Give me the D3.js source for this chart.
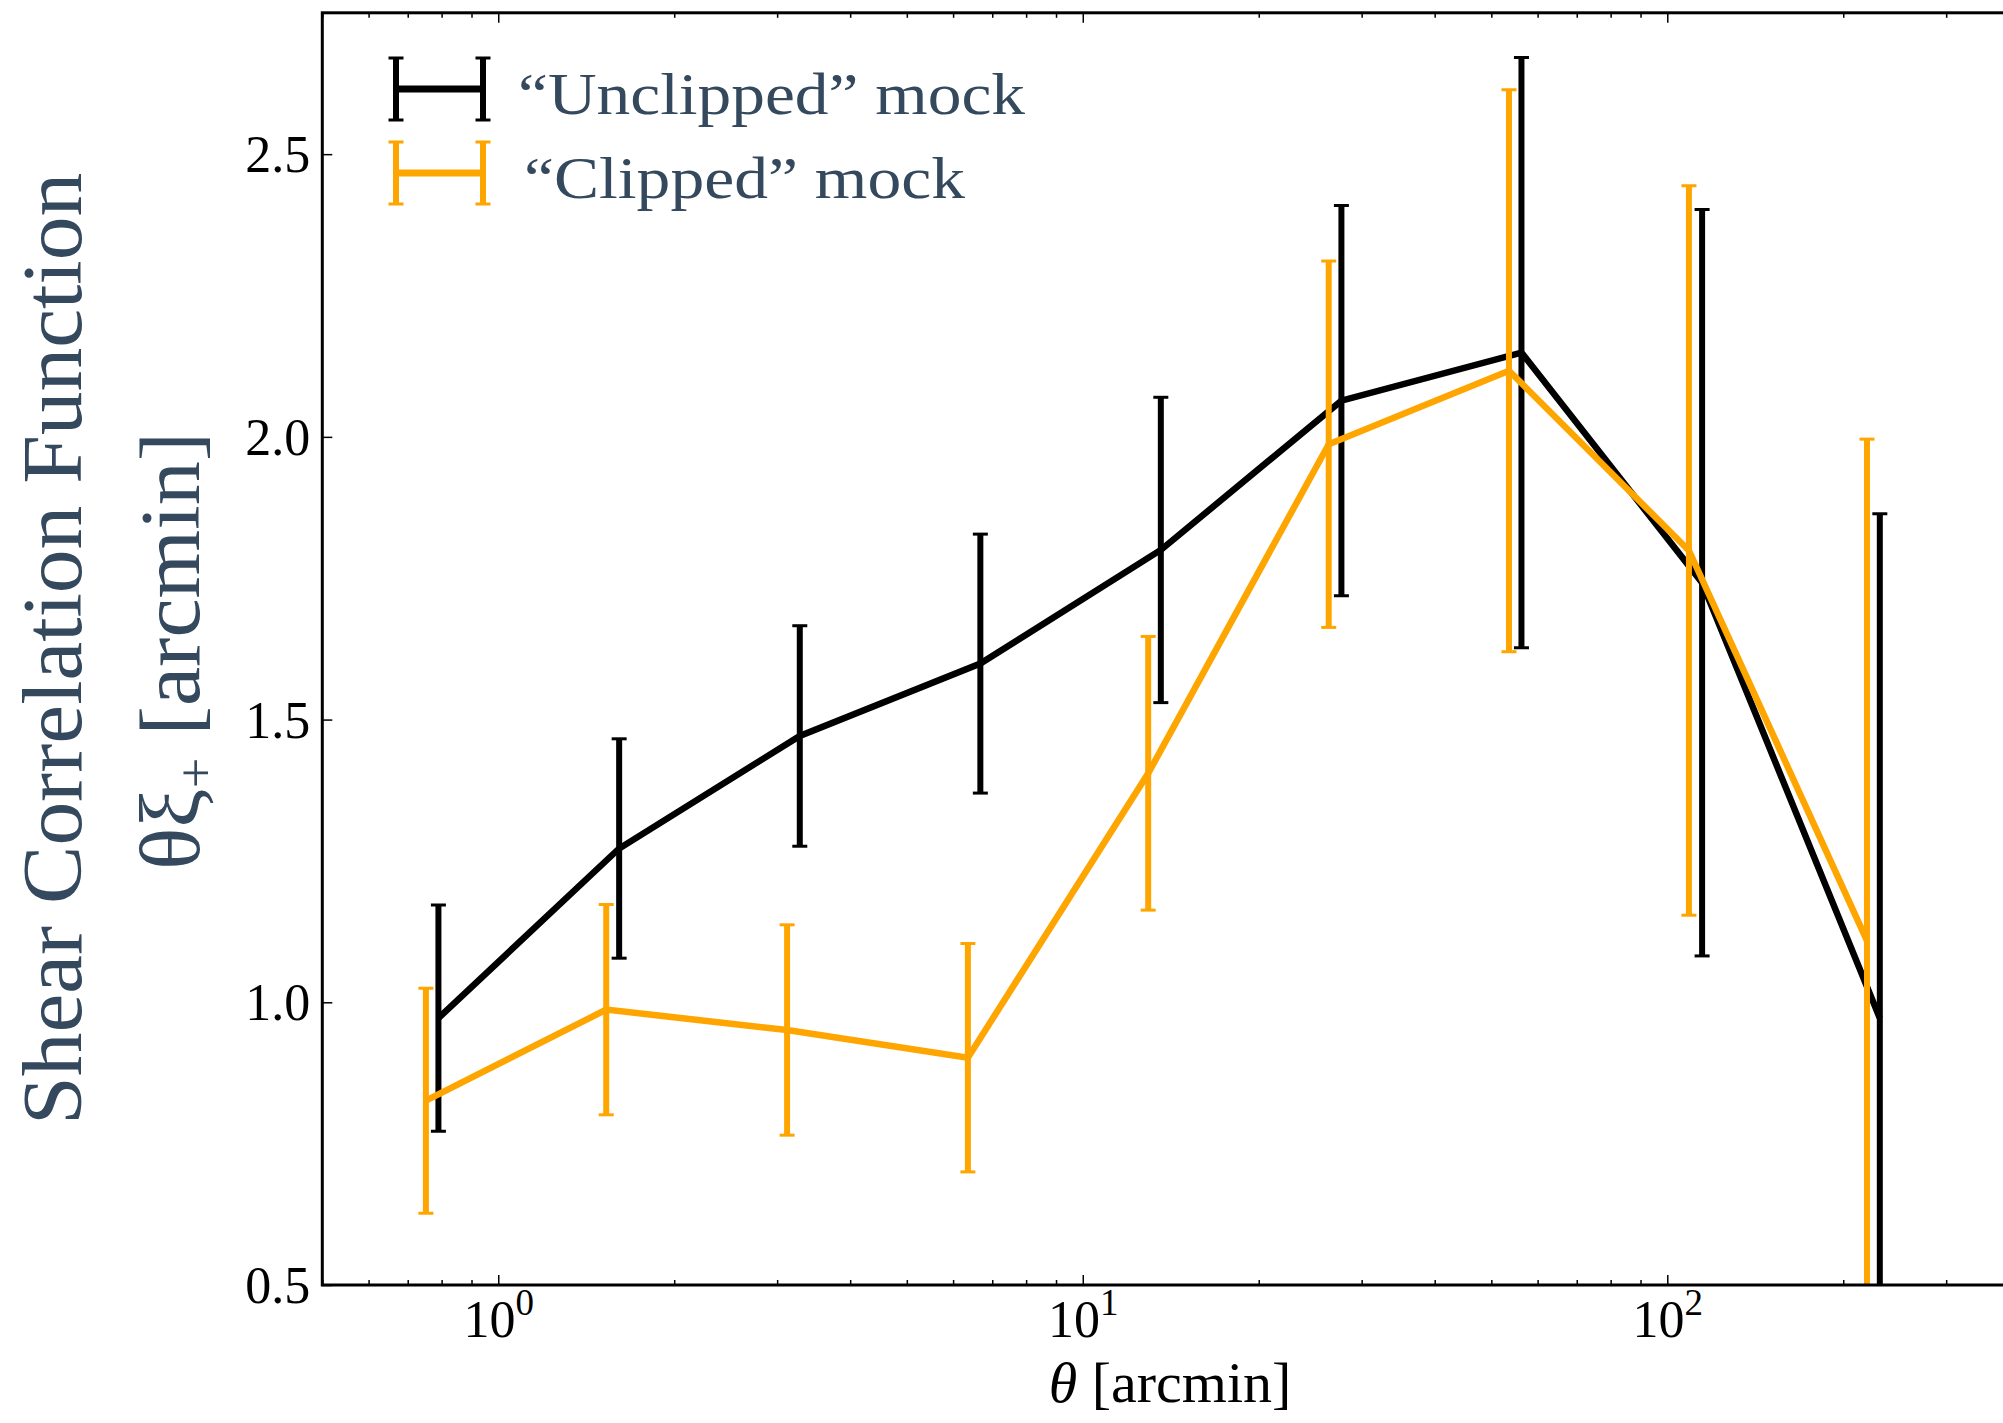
<!DOCTYPE html>
<html>
<head>
<meta charset="utf-8">
<script src="https://cdn.jsdelivr.net/npm/d3@7"></script>
<style>
  html, body { margin: 0; padding: 0; background: #ffffff; }
  svg { display: block; }
</style>
</head>
<body>
<svg id="chart" width="2003" height="1423"></svg>
<script>
// Angular bins (arcmin) and θ·ξ+ values with 1σ errors for both mock catalogues
const thetaUnclipped = [0.79, 1.61, 3.28, 6.68, 13.6, 27.7, 56.3, 114.7, 231];
const xiUnclipped    = [0.972, 1.272, 1.471, 1.599, 1.800, 2.064, 2.149, 1.742, 0.972];
const errUnclipped   = [0.200, 0.194, 0.195, 0.229, 0.270, 0.345, 0.522, 0.660, 0.892];

const thetaClipped = [0.752, 1.53, 3.12, 6.36, 12.94, 26.35, 53.6, 108.9, 219.6];
const xiClipped    = [0.826, 0.987, 0.951, 0.902, 1.405, 1.987, 2.117, 1.799, 1.109];
const errClipped   = [0.199, 0.186, 0.186, 0.202, 0.242, 0.324, 0.497, 0.645, 0.887];

const seriesNames  = ["\u201CUnclipped\u201D mock", "\u201CClipped\u201D mock"];
const seriesColors = ["#000000", "#FFA500"];

const xMajorTicks = [1, 10, 100];
const xMajorExponents = ["0", "1", "2"];
const yTicks = [0.5, 1.0, 1.5, 2.0, 2.5];
const yTickLabels = ["0.5", "1.0", "1.5", "2.0", "2.5"];

const xDomain = [0.5, 400];
const yDomain = [0.5, 2.75];

const series = [
  { name: seriesNames[0], color: seriesColors[0],
    pts: thetaUnclipped.map((t, i) => ({ t, v: xiUnclipped[i], e: errUnclipped[i] })) },
  { name: seriesNames[1], color: seriesColors[1],
    pts: thetaClipped.map((t, i) => ({ t, v: xiClipped[i], e: errClipped[i] })) }
];

const svg = d3.select("#chart");
const plot = { left: 322.3, top: 12.8, bottom: 1285, right: 2019.2 };

const x = d3.scaleLog().domain(xDomain).range([plot.left, plot.right]);
const y = d3.scaleLinear().domain(yDomain).range([plot.bottom, plot.top]);

const labelColor = "#34495E";
const serif = "'Liberation Serif', 'DejaVu Serif', serif";

// clipping for the data area
svg.append("defs").append("clipPath").attr("id", "plotClip")
  .append("rect")
  .attr("x", plot.left).attr("y", plot.top)
  .attr("width", plot.right - plot.left).attr("height", plot.bottom - plot.top);

const data = svg.append("g").attr("clip-path", "url(#plotClip)");

const line = d3.line().x(d => x(d.t)).y(d => y(d.v));
const capHalf = 7.5;

series.forEach(s => {
  const g = data.append("g");
  // error bars
  g.selectAll("line.err").data(s.pts).join("line")
    .attr("x1", d => x(d.t)).attr("x2", d => x(d.t))
    .attr("y1", d => y(d.v - d.e)).attr("y2", d => y(d.v + d.e))
    .attr("stroke", s.color).attr("stroke-width", 6);
  // caps
  ["lo", "hi"].forEach(k => {
    g.selectAll("line.cap" + k).data(s.pts).join("line")
      .attr("x1", d => x(d.t) - capHalf).attr("x2", d => x(d.t) + capHalf)
      .attr("y1", d => y(k === "lo" ? d.v - d.e : d.v + d.e))
      .attr("y2", d => y(k === "lo" ? d.v - d.e : d.v + d.e))
      .attr("stroke", s.color).attr("stroke-width", 3);
  });
  // connecting line
  g.append("path").datum(s.pts)
    .attr("d", line).attr("fill", "none")
    .attr("stroke", s.color).attr("stroke-width", 6.5)
    .attr("stroke-linejoin", "miter");
});

// minor x ticks: every log tick that is not a power of ten
const xMinor = x.ticks().filter(v => Math.abs(Math.log10(v) - Math.round(Math.log10(v))) > 1e-6);

function styleAxis(g) {
  g.select(".domain").remove();
  g.selectAll(".tick line").attr("stroke", "#000").attr("stroke-width", 1.5);
}

// bottom axis
svg.append("g").attr("transform", `translate(0,${plot.bottom})`)
  .call(d3.axisBottom(x).tickValues(xMinor).tickSize(-5).tickFormat(""))
  .call(styleAxis);
const xb = svg.append("g").attr("transform", `translate(0,${plot.bottom})`)
  .call(d3.axisBottom(x).tickValues(xMajorTicks).tickSize(-10).tickPadding(0).tickFormat(""))
  .call(styleAxis);
xb.selectAll(".tick text").each(function(d, i) {
  const t = d3.select(this);
  t.attr("fill", "#000").attr("font-family", serif).attr("font-size", 52)
    .attr("y", 52).attr("dy", null).attr("text-anchor", "middle");
  t.append("tspan").text("10");
  t.append("tspan").text(xMajorExponents[i]).attr("font-size", 37).attr("dy", -22);
});

// top axis (ticks only)
svg.append("g").attr("transform", `translate(0,${plot.top})`)
  .call(d3.axisTop(x).tickValues(xMinor).tickSize(-5).tickFormat(""))
  .call(styleAxis);
svg.append("g").attr("transform", `translate(0,${plot.top})`)
  .call(d3.axisTop(x).tickValues(xMajorTicks).tickSize(-10).tickFormat(""))
  .call(styleAxis);

// left axis
const yl = svg.append("g").attr("transform", `translate(${plot.left},0)`)
  .call(d3.axisLeft(y).tickValues(yTicks).tickSize(-10).tickPadding(12)
    .tickFormat((d, i) => yTickLabels[i]))
  .call(styleAxis);
yl.selectAll(".tick text").attr("fill", "#000").attr("font-family", serif)
  .attr("font-size", 52).attr("dy", "0.34em");

// right axis (ticks only)
svg.append("g").attr("transform", `translate(${plot.right},0)`)
  .call(d3.axisRight(y).tickValues(yTicks).tickSize(-10).tickFormat(""))
  .call(styleAxis);

// frame
svg.append("rect")
  .attr("x", plot.left).attr("y", plot.top)
  .attr("width", plot.right - plot.left).attr("height", plot.bottom - plot.top)
  .attr("fill", "none").attr("stroke", "#000").attr("stroke-width", 3);

// x axis label
const xl = svg.append("text")
  .attr("x", 1170).attr("y", 1402)
  .attr("text-anchor", "middle").attr("font-family", serif)
  .attr("font-size", 58).attr("fill", "#000");
xl.append("tspan").text("\u03B8").attr("font-style", "italic");
xl.append("tspan").text(" [arcmin]");

// y axis label, two lines
const yMid = (plot.top + plot.bottom) / 2;
svg.append("text")
  .attr("transform", `translate(81,${yMid}) rotate(-90)`)
  .attr("text-anchor", "middle").attr("font-family", serif)
  .attr("font-size", 84).attr("fill", labelColor)
  .attr("textLength", 952).attr("lengthAdjust", "spacingAndGlyphs")
  .text("Shear Correlation Function");
const y2 = svg.append("text")
  .attr("transform", `translate(199,${yMid + 2}) rotate(-90)`)
  .attr("text-anchor", "middle").attr("font-family", serif)
  .attr("font-size", 84).attr("fill", labelColor)
  .attr("textLength", 438).attr("lengthAdjust", "spacingAndGlyphs");
y2.append("tspan").text("\u03B8\u03BE");
y2.append("tspan").text("+").attr("font-size", 52).attr("dy", 14);
y2.append("tspan").text(" [arcmin]").attr("dy", -14);

// legend
const legend = svg.append("g");
const legendRows = [89, 173];
const legendTextWidth = [507, 441];
series.forEach((s, i) => {
  const cy = legendRows[i];
  const g = legend.append("g");
  [396, 483].forEach(bx => {
    g.append("line").attr("x1", bx).attr("x2", bx).attr("y1", cy - 31).attr("y2", cy + 31)
      .attr("stroke", s.color).attr("stroke-width", 6);
    [cy - 31, cy + 31].forEach(cyy => g.append("line")
      .attr("x1", bx - capHalf).attr("x2", bx + capHalf).attr("y1", cyy).attr("y2", cyy)
      .attr("stroke", s.color).attr("stroke-width", 3));
  });
  g.append("line").attr("x1", 396).attr("x2", 483).attr("y1", cy).attr("y2", cy)
    .attr("stroke", s.color).attr("stroke-width", 7);
  g.append("text")
    .attr("x", i === 0 ? 518 : 524).attr("y", cy + 25)
    .attr("font-family", serif).attr("font-size", 60).attr("fill", labelColor)
    .attr("textLength", legendTextWidth[i]).attr("lengthAdjust", "spacingAndGlyphs")
    .text(s.name);
});
</script>
</body>
</html>
